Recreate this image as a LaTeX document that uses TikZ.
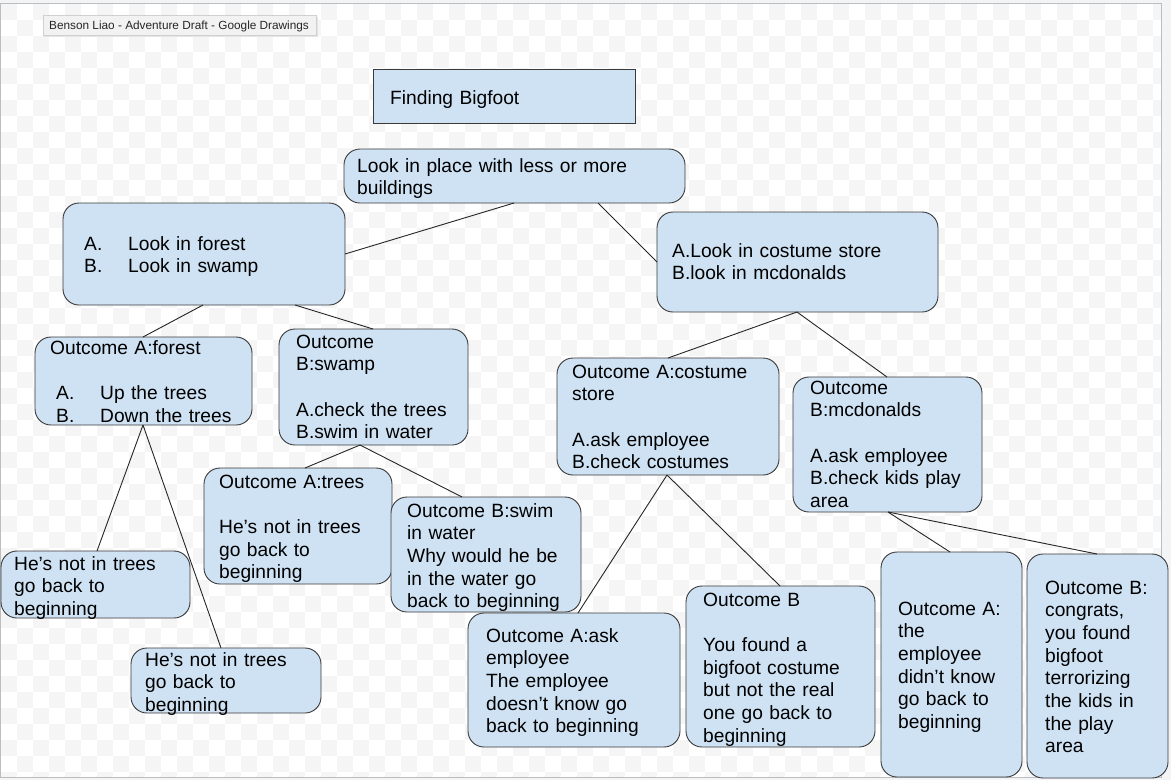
\documentclass[tikz,border=0pt]{standalone}
\usepackage{fontspec}
\setmainfont{Liberation Sans}
\usetikzlibrary{calc}
\definecolor{boxfill}{HTML}{CFE2F3}
\definecolor{boxline}{HTML}{3A3A3A}
\definecolor{checker}{HTML}{F5F5F5}
\definecolor{outside}{HTML}{F3F4F6}
\definecolor{canvasline}{HTML}{BDBDBD}
\definecolor{tabfill}{HTML}{F2F2F2}
\definecolor{tabline}{HTML}{D0D0D0}
\tikzset{
 box/.style={draw=boxline, fill=boxfill, line width=0.9pt, rounded corners=16pt, inner sep=0pt, outer sep=0pt, anchor=north west},
 sharpbox/.style={draw=boxline, fill=boxfill, line width=0.9pt, inner sep=0pt, outer sep=0pt, anchor=north west},
 txt/.style={anchor=base west, inner sep=0pt, text width=330pt, align=left, font=\fontsize{19.2}{22.7}\selectfont},
 tabtxt/.style={anchor=base west, inner sep=0pt, text=black!85, font=\fontsize{11.8}{14}\selectfont},
 link/.style={draw=black!85, line width=0.9pt},
}
\begin{document}
\begin{tikzpicture}[x=1pt,y=-1pt]
\useasboundingbox (0,0) rectangle (1171,780);
% page and canvas
\fill[outside] (0,0) rectangle (1171,780);
\begin{scope}
 \clip (1,3) rectangle (1161,777);
 \fill[white] (1,3) rectangle (1161,777);
 \foreach \r in {0,...,48}{
  \pgfmathsetmacro\ph{mod(\r,2)*16}
  \draw[checker, line width=16pt, dash pattern=on 16pt off 16pt, dash phase=\ph pt] (1,{12+16*\r}) -- (1161,{12+16*\r});
 }
\end{scope}
\draw[canvasline, line width=1pt] (0.5,3) rectangle (1161,777);
% title tab
\fill[black!10] (44,17) rectangle (318,37);
\node[draw=tabline, fill=tabfill, line width=0.6pt, inner sep=0pt, outer sep=0pt, anchor=north west, minimum width=273pt, minimum height=20pt] (tab) at (43,15) {};
\node[tabtxt] (tabt) at (49,29) {Benson Liao - Adventure Draft - Google Drawings};

% boxes
\node[sharpbox, minimum width=262pt, minimum height=54pt] (fb) at (373,69) {};
\node[box, minimum width=341pt, minimum height=54pt] (look) at (344,149) {};
\node[box, minimum width=282pt, minimum height=102pt] (fs) at (63,203) {};
\node[box, minimum width=281pt, minimum height=100pt] (cm) at (657,212) {};
\node[box, minimum width=217pt, minimum height=88pt] (oaf) at (35,337) {};
\node[box, minimum width=189pt, minimum height=116pt] (obs) at (279,329) {};
\node[box, minimum width=222pt, minimum height=117pt] (oac) at (557,358) {};
\node[box, minimum width=189pt, minimum height=135pt] (obm) at (793,377) {};
\node[box, minimum width=188pt, minimum height=116pt] (oat) at (204,468) {};
\node[box, minimum width=190pt, minimum height=115pt] (obsw) at (391,497) {};
\node[box, minimum width=189pt, minimum height=67pt] (hn1) at (1,551) {};
\node[box, minimum width=190pt, minimum height=65pt] (hn2) at (131,648) {};
\node[box, minimum width=212pt, minimum height=134pt] (oaa) at (468,613) {};
\node[box, minimum width=189pt, minimum height=161pt] (ob) at (686,586) {};
\node[box, minimum width=141pt, minimum height=225pt] (oa) at (881,552) {};
\node[box, minimum width=141pt, minimum height=224pt] (obc) at (1027,554) {};

% texts
\node[txt] (fbt) at (390,104) {Finding Bigfoot};
\node[txt] (lookt) at (357,172) {Look in place with less or more\\buildings};
\node[txt] (fst) at (84,250) {\makebox[44pt][l]{A.}Look in forest\\\makebox[44pt][l]{B.}Look in swamp};
\node[txt] (cmt) at (672,257) {A.Look in costume store\\B.look in mcdonalds};
\node[txt] (oaft) at (50,354) {Outcome A:forest\\[22.7pt]\hspace*{6pt}\makebox[44pt][l]{A.}Up the trees\\\hspace*{6pt}\makebox[44pt][l]{B.}Down the trees};
\node[txt] (obst) at (296,348) {Outcome\\B:swamp\\[22.7pt]A.check the trees\\B.swim in water};
\node[txt] (oact) at (572,378) {Outcome A:costume\\store\\[22.7pt]A.ask employee\\B.check costumes};
\node[txt] (obmt) at (810,394) {Outcome\\B:mcdonalds\\[22.7pt]A.ask employee\\B.check kids play\\area};
\node[txt] (oatt) at (219,488) {Outcome A:trees\\[22.7pt]He’s not in trees\\go back to\\beginning};
\node[txt] (obswt) at (407,517) {Outcome B:swim\\in water\\Why would he be\\in the water go\\back to beginning};
\node[txt] (hn1t) at (14,570) {He’s not in trees\\go back to\\beginning};
\node[txt] (hn2t) at (145,666) {He’s not in trees\\go back to\\beginning};
\node[txt] (oaat) at (486,642) {Outcome A:ask\\employee\\The employee\\doesn’t know go\\back to beginning};
\node[txt] (obt) at (703,606) {Outcome B\\[22.7pt]You found a\\bigfoot costume\\but not the real\\one go back to\\beginning};
\node[txt] (oat2) at (898,615) {Outcome A:\\the\\employee\\didn’t know\\go back to\\beginning};
\node[txt] (obct) at (1045,594) {Outcome B:\\congrats,\\you found\\bigfoot\\terrorizing\\the kids in\\the play\\area};

% connectors
\draw[link] ([xshift=170pt]look.south west) -- (fs.east);
\draw[link] ([xshift=254pt]look.south west) -- (cm.west);
\draw[link] ([xshift=140pt]fs.south west) -- ([xshift=108pt]oaf.north west);
\draw[link] ([xshift=232pt]fs.south west) -- ([xshift=94pt]obs.north west);
\draw[link] ([xshift=108pt]oaf.south west) -- ([xshift=96pt]hn1.north west);
\draw[link] ([xshift=108pt]oaf.south west) -- ([xshift=90pt]hn2.north west);
\draw[link] ([xshift=81pt]obs.south west) -- ([xshift=101pt]oat.north west);
\draw[link] ([xshift=81pt]obs.south west) -- ([xshift=71pt]obsw.north west);
\draw[link] ([xshift=140pt]cm.south west) -- ([xshift=111pt]oac.north west);
\draw[link] ([xshift=140pt]cm.south west) -- ([xshift=94pt]obm.north west);
\draw[link] ([xshift=110pt]oac.south west) -- ([xshift=110pt]oaa.north west);
\draw[link] ([xshift=110pt]oac.south west) -- ([xshift=94pt]ob.north west);
\draw[link] ([xshift=95pt]obm.south west) -- ([xshift=69pt]oa.north west);
\draw[link] ([xshift=95pt]obm.south west) -- ([xshift=70pt]obc.north west);
\end{tikzpicture}
\end{document}
